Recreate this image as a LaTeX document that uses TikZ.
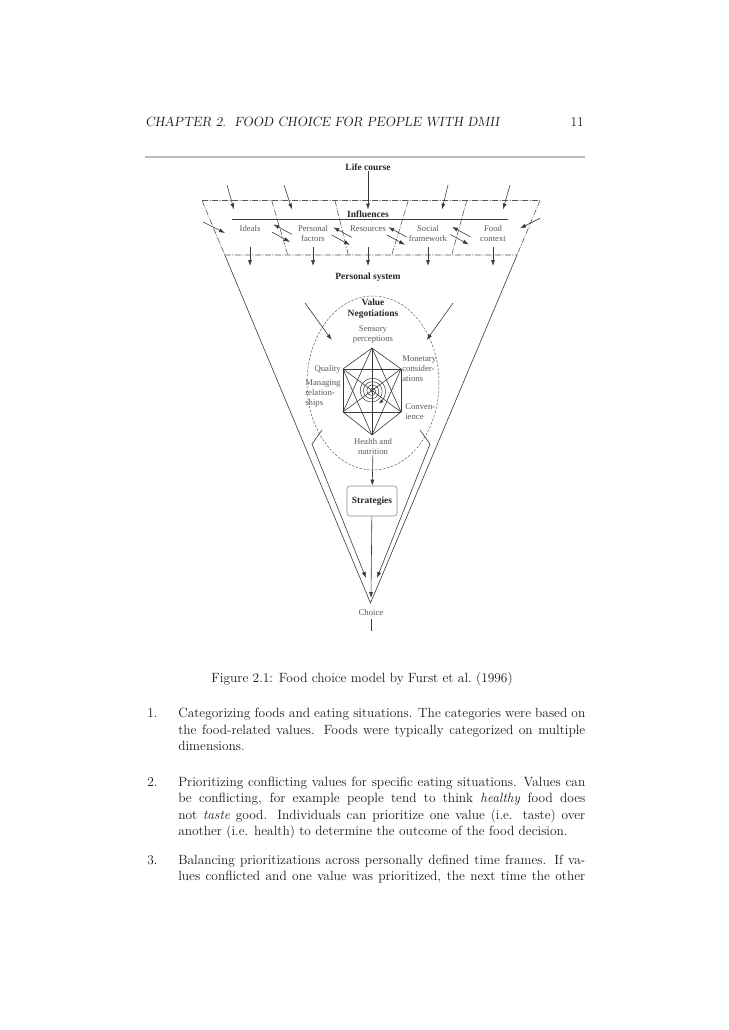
\documentclass[tikz,border=0pt]{standalone}
\usepackage{fontspec}
\newfontfamily\figfont{Liberation Serif}
\usepackage{xcolor}
\usepackage{tikz}
\usetikzlibrary{arrows.meta}
\usetikzlibrary{calc}
\usetikzlibrary{positioning}
\definecolor{ink}{HTML}{3A3A3A}
\definecolor{lbl}{HTML}{5A5A66}
\newcommand{\jl}[1]{\makebox[407pt][s]{#1}}

\begin{document}
\begin{tikzpicture}[x=1pt,y=-1pt,-,semithick]
 \tikzstyle{page}=[inner sep=0pt,anchor=base west,text=black!90,font=\fontsize{13.4}{16.5}\selectfont]
 \tikzstyle{lab}=[inner sep=0pt,align=center,text=lbl,font=\figfont\fontsize{8.7}{10}\selectfont]
 \tikzstyle{head}=[inner sep=0pt,align=center,text=black!85,font=\figfont\bfseries\fontsize{9.5}{10.5}\selectfont]
 \tikzstyle{arr}=[-{Latex[length=6pt,width=4pt]},draw=ink,line width=.6pt]
 \tikzstyle{band}=[draw=ink!85,line width=.6pt,dash pattern=on 6pt off 1.5pt on 1pt off 1.5pt]
 \fill[white] (0,0) rectangle (728,1030);
 \useasboundingbox (0,0) rectangle (728,1030);

 % page header
 \node[page] (hdr) at (145,126.5) {\slshape CHAPTER 2.\ \ FOOD CHOICE FOR PEOPLE WITH DMII};
 \node[page,anchor=base east] (pg) at (584,126.5) {11};
 \draw[gray!55,line width=1.6pt] (145,157) -- (585,157);

 % influences band
 \coordinate (TL) at (202,200.5);
 \coordinate (TR) at (540,200.5);
 \coordinate (BL) at (224.8,255);
 \coordinate (BR) at (517,255);
 \coordinate (apex) at (370.5,603);
 \draw[band] (TL) -- (TR) (BL) -- (BR) (TL) -- (BL) (TR) -- (BR);
 \draw[band] (271.7,200.5) -- (287.7,255) (335,200.5) -- (348.3,255)
             (408.3,200.5) -- (391.7,255) (466.7,200.5) -- (451.7,255);
 \draw[draw=ink,line width=.6pt] (BL) -- (apex) -- (BR);
 \draw[draw=ink,line width=.6pt] (232,219.3) -- (508,219.3);

 \node[head] (life) at (368,167) {Life course};
 \node[head,anchor=base] (infl) at (368,217) {Influences};
 \node[lab] (ideals) at (250,229) {Ideals};
 \node[lab] (pers) at (313,234) {Personal\\factors};
 \node[lab] (res) at (368,229) {Resources};
 \node[lab] (soc) at (428,234) {Social\\framework};
 \node[lab] (food) at (493,234) {Food\\context};
 \node[head] (psys) at (368,277) {Personal system};

 \coordinate (lcend) at (368,209.5);
 \draw[arr] (life) -- (lcend);
 \foreach \a/\b [count=\i] in {227/234, 284/292, 448/442, 510/503}{
   \coordinate (in\i) at (\a,185);
   \coordinate (out\i) at (\b,209.5);
   \draw[arr] (in\i) -- (out\i);
 }
 \coordinate (sl1) at (203,222);
 \coordinate (sl2) at (225,233);
 \coordinate (sr1) at (540,218.3);
 \coordinate (sr2) at (520,228.3);
 \draw[arr] (sl1) -- (sl2);
 \draw[arr] (sr1) -- (sr2);
 \foreach \x/\y in {281.8/233, 341.7/236, 396.7/235.8, 460.4/235.5}{
   \coordinate (c) at (\x,\y);
   \draw[arr] ([shift={(10,1.3)}]c) -- ([shift={(-8.4,-8.7)}]c);
   \draw[arr] ([shift={(-10,-1)}]c) -- ([shift={(8.3,9)}]c);
 }
 \coordinate (bt) at (0,247);
 \coordinate (bb) at (0,266);
 \foreach \n in {ideals,pers,res,soc,food}
   \draw[arr] (\n |- bt) -- (\n |- bb);

 % value negotiations
 \coordinate (vc) at (373,383);
 \draw[draw=ink!80,line width=.5pt,dash pattern=on 2.5pt off 1.5pt] (vc) ellipse [x radius=66,y radius=87];
 \node[head] (val) at (373,309) {Value\\Negotiations};
 \coordinate (vl1) at (305,303);
 \coordinate (vl2) at (331.7,340);
 \coordinate (vr1) at (453,303);
 \coordinate (vr2) at (426.7,340);
 \draw[arr] (vl1) -- (vl2);
 \draw[arr] (vr1) -- (vr2);

 \foreach \x/\y [count=\i] in {372/348, 401/369, 401/412, 372/435, 343/412, 343/369}
   \coordinate (h\i) at (\x,\y);
 \foreach \i in {1,...,5}{
   \pgfmathtruncatemacro\k{\i+1}
   \foreach \j in {\k,...,6}
     \draw[draw=ink,line width=.6pt] (h\i) -- (h\j);
 }
 \draw[-{Latex[length=4pt,width=3.5pt]},draw=ink,line width=.5pt]
   plot[domain=0:1500,samples=160,smooth] ({372+\x/1500*14*cos(\x)},{391+\x/1500*14*sin(\x)});

 \node[lab] (sens) at (373,335) {Sensory\\perceptions};
 \node[lab,anchor=east] (qual) at (341,369) {Quality};
 \node[lab,anchor=west,align=left] (mon) at (402,369) {Monetary\\consider-\\ations};
 \node[lab,anchor=west,align=left] (man) at (305,394) {Managing\\relation-\\ships};
 \node[lab,anchor=west,align=left] (conv) at (405,412) {Conven-\\ience};
 \node[lab] (health) at (373,447) {Health and\\nutrition};

 % strategies and choice
 \node[head,draw=ink!60,line width=.6pt,rounded corners=3pt,minimum width=50pt,minimum height=30pt] (strat) at (372,501) {Strategies};
 \node[lab] (choice) at (371,613) {Choice};
 \coordinate (tip) at (371,598);
 \coordinate (cend) at (371,631);
 \draw[arr] (health) -- (strat);
 \draw[arr] (strat) -- (tip);
 \draw[draw=ink,line width=.6pt,shorten <=3pt] (choice) -- (cend);
 \coordinate (il1) at (322,430);
 \coordinate (il2) at (312,444);
 \coordinate (il3) at (366,578);
 \coordinate (ir1) at (420,430);
 \coordinate (ir2) at (430,444);
 \coordinate (ir3) at (377,578);
 \draw[arr] (il1) -- (il2) -- (il3);
 \draw[arr] (ir1) -- (ir2) -- (ir3);

 % caption and list
 \node[page,anchor=base] (cap) at (362,682.3) {Figure 2.1: Food choice model by Furst et al.\ (1996)};
 \node[page] (n1) at (147,717.5) {1.};
 \node[page] (a1) at (178,717.5) {\jl{Categorizing foods and eating situations. The categories were based on}};
 \node[page] (a2) at (178,734) {\jl{the food-related values. Foods were typically categorized on multiple}};
 \node[page] (a3) at (178,750.5) {dimensions.};
 \node[page] (n2) at (147,786) {2.};
 \node[page] (b1) at (178,786) {\jl{Prioritizing conflicting values for specific eating situations. Values can}};
 \node[page] (b2) at (178,802.5) {\jl{be conflicting, for example people tend to think \textit{healthy} food does}};
 \node[page] (b3) at (178,819) {\jl{not \textit{taste} good. Individuals can prioritize one value (i.e. taste) over}};
 \node[page] (b4) at (178,835.5) {another (i.e. health) to determine the outcome of the food decision.};
 \node[page] (n3) at (147,864) {3.};
 \node[page] (c1) at (178,864) {\jl{Balancing prioritizations across personally defined time frames. If va-}};
 \node[page] (c2) at (178,880.5) {\jl{lues conflicted and one value was prioritized, the next time the other}};
\end{tikzpicture}
\end{document}
